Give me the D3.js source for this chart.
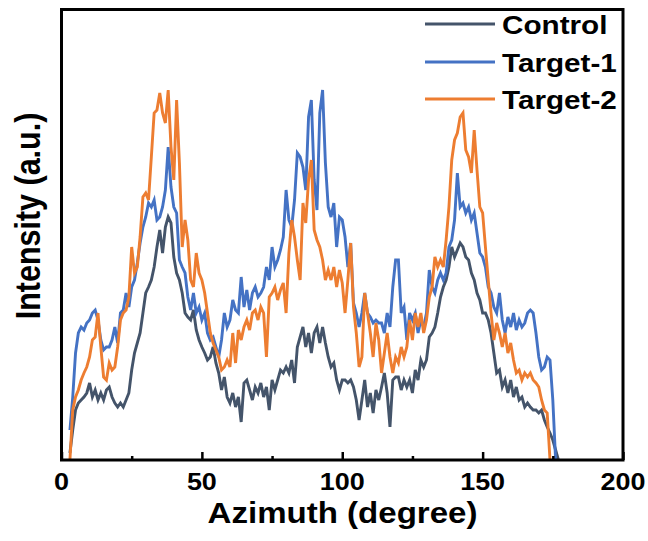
<!DOCTYPE html>
<html>
<head>
<meta charset="utf-8">
<script src="https://cdn.jsdelivr.net/npm/d3@7"></script>
<style>
  html, body { margin: 0; padding: 0; background: #ffffff; }
  svg { display: block; }
  text { font-family: "Liberation Sans", Arial, sans-serif; font-weight: bold; fill: #000; }
</style>
</head>
<body>
<svg id="chart" width="648" height="541"></svg>
<script>
// ---------------- DATA ----------------
const seriesNames = ["Control", "Target-1", "Target-2"];
const xTicks = [0, 50, 100, 150, 200];
const xMinorTicks = [25, 75, 125, 175];
const xLabel = "Azimuth (degree)";
const yLabel = "Intensity (a.u.)";

const azimuth = [
  3,4,5,6,7,8,9,10,11,12,13,14,15,16,17,18,19,20,21,22,23,24,25,26,27,28,29,30,31,32,33,34,35,36,37,38,39,40,
  41,42,43,44,45,46,47,48,49,50,51,52,53,54,55,56,57,58,59,60,61,62,63,64,65,66,67,68,69,70,71,72,73,74,75,76,77,78,79,80,
  81,82,83,84,85,86,87,88,89,90,91,92,93,94,95,96,97,98,99,100,101,102,103,104,105,106,107,108,109,110,111,112,113,114,115,116,117,118,119,120,
  121,122,123,124,125,126,127,128,129,130,131,132,133,134,135,136,137,138,139,140,141,142,143,144,145,146,147,148,149,150,151,152,153,154,155,156,157,158,159,160,
  161,162,163,164,165,166,167,168,169,170,171,172,173,174,175,176,177
];

const control = [
  7,30,50,57,60,63,67,77,63,70,60,67,60,70,73,63,57,53,57,53,60,67,90,107,117,127,147,167,173,180,193,213,230,207,233,243,237,203,
  187,180,167,147,143,140,150,130,120,113,107,100,103,113,97,87,70,83,63,57,67,53,63,38,77,80,70,60,73,67,77,63,73,50,80,70,80,90,87,93,
  87,100,77,113,123,133,113,127,107,127,133,117,133,117,103,93,97,80,70,80,80,77,80,73,60,40,60,80,53,67,47,70,60,73,87,67,33,80,83,83,
  70,80,73,80,67,90,80,100,93,100,123,127,133,147,163,173,180,193,213,203,210,217,213,203,200,187,180,167,160,147,147,140,127,107,87,90,73,80,67,80,
  63,73,60,63,53,57,53,50,50,47,50,40,33,27,20,10,0
];

const target1 = [
  30,63,107,127,133,130,137,140,147,150,140,120,110,113,113,120,133,117,147,150,167,153,173,180,197,217,233,243,257,253,260,240,243,253,270,313,273,253,
  247,200,193,187,163,150,167,147,153,140,147,127,120,123,113,103,120,147,133,140,160,150,147,183,153,170,150,167,173,163,167,173,193,180,213,193,200,210,223,270,
  240,233,260,307,303,293,270,343,360,280,250,347,370,297,253,243,257,213,243,240,223,193,217,157,147,133,147,167,147,143,137,140,137,137,127,147,133,173,200,200,
  147,153,120,147,140,147,127,140,133,147,190,173,167,180,187,180,187,213,220,240,287,253,257,247,253,240,247,227,207,203,193,173,167,153,147,167,140,127,143,133,
  147,130,140,133,137,147,150,147,127,103,90,93,103,100,60,0,null
];

const target2 = [
  0,50,63,70,80,87,93,103,120,123,147,113,83,80,97,90,93,113,140,147,150,163,213,187,193,223,263,267,260,303,347,350,367,347,337,370,313,280,
  360,297,213,240,220,180,173,207,187,180,167,147,127,117,110,103,90,93,100,93,127,97,130,120,133,140,130,147,150,140,153,147,103,163,167,173,160,170,177,147,
  207,240,223,200,180,257,237,280,300,230,220,213,200,180,190,180,193,173,190,177,147,180,217,153,127,93,103,167,147,127,103,137,120,87,107,127,103,87,103,97,
  113,103,113,140,120,147,133,147,127,140,163,173,203,193,200,193,220,253,300,320,327,343,347,310,303,287,330,290,253,247,213,180,147,120,137,127,113,127,107,117,
  100,87,90,80,87,83,87,80,77,73,60,50,47,0,null,null,null
];

const seriesColors = ["#44546A", "#4472C4", "#ED7D31"];

// ---------------- LAYOUT ----------------
(function () {
  const svg = d3.select("#chart");
  const pLeft = 61.5, pRight = 623, pTop = 9.5, pBottom = 460;
  const x = d3.scaleLinear().domain([0, 200]).range([pLeft, pRight]);
  const y = d3.scaleLinear().domain([0, 450.5]).range([pBottom, pTop]);

  const allSeries = [control, target1, target2];

  const line = d3.line()
    .defined(d => d[1] !== null)
    .x(d => x(d[0]))
    .y(d => y(d[1]));

  const plot = svg.append("g");
  allSeries.forEach((vals, i) => {
    const pts = azimuth.map((a, j) => [a, vals[j]]);
    plot.append("path")
      .datum(pts)
      .attr("fill", "none")
      .attr("stroke", seriesColors[i])
      .attr("stroke-width", 2.9)
      .attr("stroke-linejoin", "miter")
      .attr("d", line);
  });

  // frame
  svg.append("rect")
    .attr("x", pLeft).attr("y", pTop)
    .attr("width", pRight - pLeft).attr("height", pBottom - pTop)
    .attr("fill", "none").attr("stroke", "#000").attr("stroke-width", 3);

  // x axis (ticks inward)
  const xAxis = d3.axisBottom(x).tickValues(xTicks).tickSize(-8).tickFormat(d3.format("d"));
  const gx = svg.append("g").attr("transform", `translate(0,${pBottom})`).call(xAxis);
  gx.select(".domain").remove();
  gx.selectAll(".tick line").attr("stroke", "#000").attr("stroke-width", 2.5);
  gx.selectAll(".tick text").remove();

  const xMinor = d3.axisBottom(x).tickValues(xMinorTicks).tickSize(-4).tickFormat("");
  const gxm = svg.append("g").attr("transform", `translate(0,${pBottom})`).call(xMinor);
  gxm.select(".domain").remove();
  gxm.selectAll(".tick line").attr("stroke", "#000").attr("stroke-width", 2.5);

  // tick labels
  svg.append("g").selectAll("text")
    .data(xTicks)
    .join("text")
    .attr("transform", d => `translate(${x(d)},490) scale(1.1,1)`)
    .attr("text-anchor", "middle")
    .attr("font-size", 24.5)
    .text(d => d);

  // axis titles
  svg.append("text")
    .attr("transform", `translate(342.5,523) scale(1.14,1)`)
    .attr("text-anchor", "middle")
    .attr("font-size", 29)
    .text(xLabel);

  svg.append("text")
    .attr("transform", `translate(40,216) scale(1.14,1) rotate(-90)`)
    .attr("text-anchor", "middle")
    .attr("font-size", 30.5)
    .text(yLabel);

  // legend
  const legendY = [24, 62, 99];
  const lg = svg.append("g");
  seriesNames.forEach((name, i) => {
    lg.append("line")
      .attr("x1", 425).attr("x2", 495)
      .attr("y1", legendY[i]).attr("y2", legendY[i])
      .attr("stroke", seriesColors[i]).attr("stroke-width", 3);
    lg.append("text")
      .attr("transform", `translate(502,${legendY[i] + 10}) scale(1.12,1)`)
      .attr("font-size", 26.5)
      .text(name);
  });
})();
</script>
</body>
</html>
